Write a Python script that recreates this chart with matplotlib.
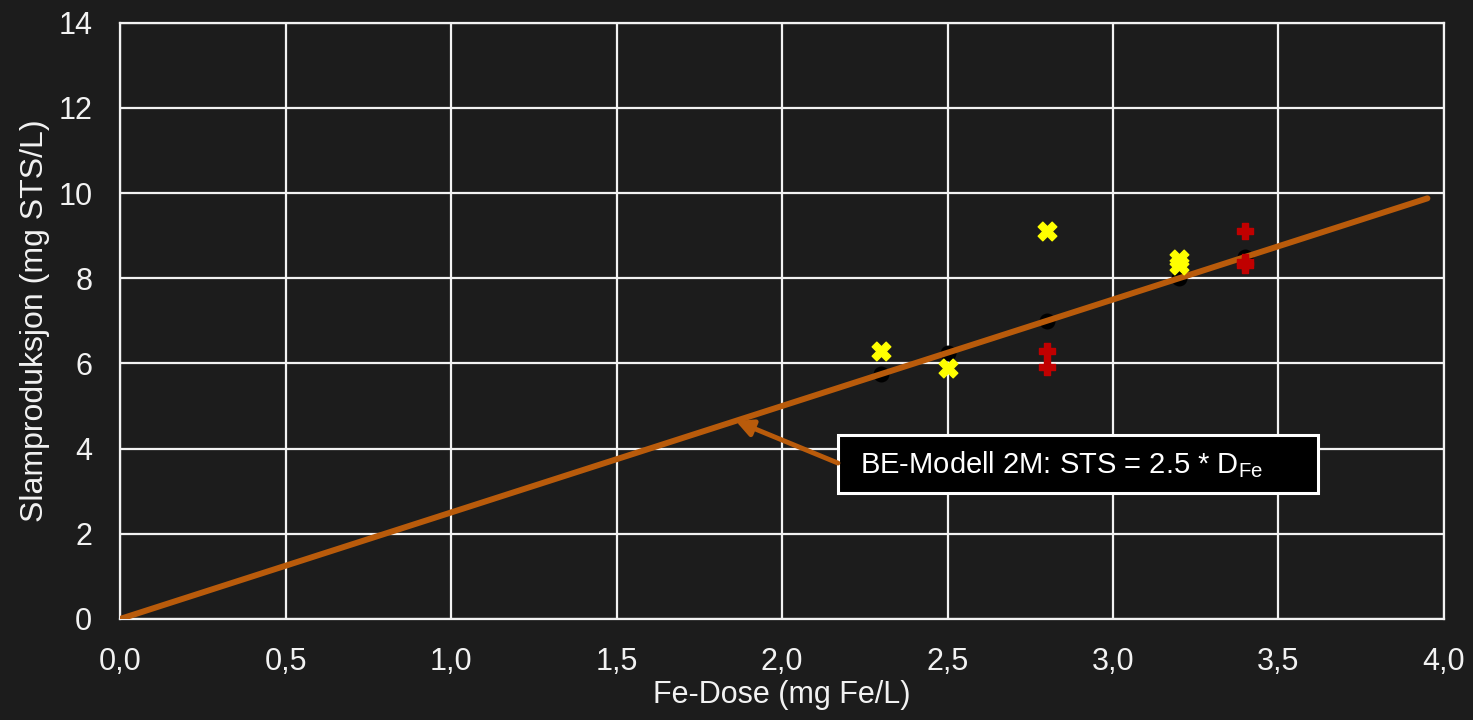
import matplotlib
matplotlib.use("Agg")
import matplotlib.pyplot as plt
from matplotlib.patches import Rectangle
from matplotlib.ticker import FuncFormatter

plt.rcParams['font.family'] = ['Liberation Sans', 'DejaVu Sans']
plt.rcParams['mathtext.fontset'] = 'custom'
plt.rcParams['mathtext.rm'] = 'Liberation Sans'
plt.rcParams['mathtext.it'] = 'Liberation Sans'

# model line STS = 2.5 * D_Fe
line_dose = [0.0, 3.95]
line_sts = [0.0, 9.875]

# model points (black)
model_dose = [2.3, 2.5, 2.8, 3.2, 3.4]
model_sts = [5.75, 6.25, 7.0, 8.0, 8.5]

# measured, yellow crosses
yellow_dose = [2.3, 2.5, 2.8, 3.2, 3.2]
yellow_sts = [6.3, 5.9, 9.1, 8.45, 8.3]

# measured, red plus
red_dose = [2.8, 2.8, 3.4, 3.4, 3.4]
red_sts = [6.3, 5.92, 9.1, 8.38, 8.3]

bg = '#1c1c1c'
fg = '#f2f2f2'
orange = '#b95b0b'

fig = plt.figure(figsize=(14.73, 7.2), dpi=100, facecolor=bg)
ax = fig.add_axes([0.0815, 0.1403, 0.8988, 0.8283], facecolor=bg)

ax.scatter(model_dose, model_sts, s=110, color='black', zorder=2)
ax.plot(line_dose, line_sts, color=orange, lw=4.3, solid_capstyle='round', zorder=3)
ax.scatter(yellow_dose, yellow_sts, s=180, marker='X', color='#ffff00', zorder=4)
ax.scatter(red_dose, red_sts, s=120, marker='P', color='#c00000', zorder=4)

# text box with arrow pointing at the model line
ax.add_patch(Rectangle((2.169, 2.96), 1.45, 1.36, facecolor='black', edgecolor='white',
                       lw=2.2, zorder=5))
ax.text(2.236, 3.62, 'BE-Modell 2M: STS = 2.5 * D$_{Fe}$', fontsize=21, color='white',
        ha='left', va='center', zorder=6)
ax.annotate('', xy=(1.86, 4.65), xytext=(2.169, 3.66),
            arrowprops=dict(arrowstyle='-|>', color=orange, lw=3.5, mutation_scale=25,
                            shrinkA=0, shrinkB=0), zorder=5)

ax.set_xlim(0, 4)
ax.set_ylim(0, 14)
ax.set_xticks([0, 0.5, 1, 1.5, 2, 2.5, 3, 3.5, 4])
ax.set_yticks(range(0, 15, 2))
ax.xaxis.set_major_formatter(FuncFormatter(lambda v, p: f"{v:.1f}".replace('.', ',')))
ax.grid(True, color=fg, lw=1.6, zorder=0)
ax.set_axisbelow(True)
for s in ax.spines.values():
    s.set_color(fg)
    s.set_linewidth(1.6)
ax.tick_params(length=0, labelsize=22, labelcolor=fg, pad=20)

ax.set_xlabel('Fe-Dose (mg Fe/L)', fontsize=22, color=fg, labelpad=2)
ax.set_ylabel('Slamproduksjon (mg STS/L)', fontsize=23, color=fg, labelpad=6)

fig.savefig('out.png', dpi=100, facecolor=bg)
